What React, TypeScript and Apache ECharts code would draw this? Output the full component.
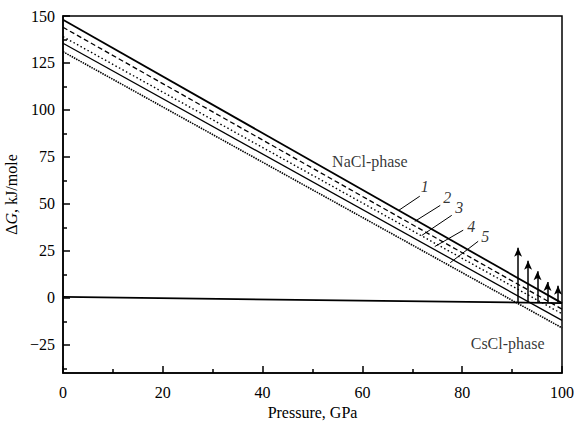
import React, { useEffect, useRef } from "react";
import * as echarts from "echarts";

// Pressure (GPa) endpoints of the lines
const pressure = [0, 100];
// NaCl-phase ΔG lines 1..5 (kJ/mole)
const line1 = [148, -2.8];
const line2 = [144, -6];
const line3 = [139, -8.5];
const line4 = [135.5, -12];
const line5 = [131, -16];
// CsCl-phase reference line
const cscl = [0.5, -2.8];

// Transition arrows
const arrowX = [91.2, 93.2, 95.1, 97.1, 99.2];
const arrowBase = [-2.2, -2.3, -2.3, -2.4, -2.5];
const arrowTop = [26.6, 19.8, 14.1, 8.4, 6.5];

// Curve numbers and leader lines
const curveNames = ["1", "2", "3", "4", "5"];
const curveLabelX = [72.5, 77, 79.4, 81.8, 84.6];
const curveLabelY = [59.4, 53.5, 48.2, 38, 32.7];
const leaderFromX = [71.5, 75.6, 77.9, 80.2, 83.2];
const leaderFromY = [54.1, 49.2, 43.9, 36.0, 30.1];
const leaderToX = [67.3, 70.5, 71.9, 74.5, 77.6];
const leaderToY = [46.6, 40.7, 33.2, 27.3, 18.7];

const phaseNames = ["NaCl-phase", "CsCl-phase"];
const phaseX = [61.5, 89.1];
const phaseY = [72.8, -24.1];

const yTicks = [-25, 0, 25, 50, 75, 100, 125, 150];
const yMinorTicks = [-37.5, -12.5, 12.5, 37.5, 62.5, 87.5, 112.5, 137.5];

const FONT = "'Liberation Serif', 'Times New Roman', serif";

export default function App() {
  const ref = useRef<HTMLDivElement>(null);
  useEffect(() => {
    const chart = echarts.init(ref.current!, null, { renderer: "svg" });
    const mk = (vals: number[]) => pressure.map((x, i) => [x, vals[i]]);
    const lineSeries = (
      data: number[],
      type: any,
      width: number
    ) => ({
      type: "line",
      data: mk(data),
      symbol: "none",
      lineStyle: { color: "#000", width, type },
      silent: true,
    });
    chart.setOption({
      animation: false,
      grid: {
        left: 63,
        right: 12,
        top: 16,
        bottom: 48,
        show: true,
        borderColor: "#000",
        borderWidth: 1.5,
        containLabel: false,
        outerBoundsMode: "none",
      },
      xAxis: {
        type: "value",
        min: 0,
        max: 100,
        interval: 20,
        name: "Pressure, GPa",
        nameLocation: "middle",
        nameGap: 27,
        nameTextStyle: { fontFamily: FONT, fontSize: 16, color: "#000" },
        axisLine: { onZero: false, lineStyle: { color: "#000", width: 1.5 } },
        axisTick: { inside: true, length: 7, lineStyle: { color: "#000", width: 1.5 } },
        minorTick: { show: true, splitNumber: 2, length: 4, lineStyle: { color: "#000", width: 1.5 } },
        axisLabel: { fontFamily: FONT, fontSize: 16, color: "#000", margin: 11 },
        splitLine: { show: false },
      },
      yAxis: [
        {
          type: "value",
          min: -40,
          max: 150,
          name: "Δ{i|G}, kJ/mole",
          nameLocation: "middle",
          nameGap: 40,
          nameRotate: 90,
          nameTextStyle: {
            fontFamily: FONT,
            fontSize: 16,
            color: "#000",
            rich: { i: { fontFamily: FONT, fontSize: 16, fontStyle: "italic", color: "#000" } },
          },
          axisLine: { show: true, onZero: false, lineStyle: { color: "#000", width: 1.5 } },
          axisTick: {
            inside: true,
            length: 7,
            customValues: yTicks,
            lineStyle: { color: "#000", width: 1.5 },
          },
          axisLabel: {
            fontFamily: FONT,
            fontSize: 16,
            color: "#000",
            margin: 8,
            customValues: yTicks,
            formatter: (v: number) => (v < 0 ? "\u2212" + Math.abs(v) : String(v)),
          },
          splitLine: { show: false },
        },
        {
          type: "value",
          min: -40,
          max: 150,
          position: "left",
          axisLine: { show: false, onZero: false },
          axisLabel: { show: false },
          axisTick: {
            show: true,
            inside: true,
            length: 4,
            customValues: yMinorTicks,
            lineStyle: { color: "#000", width: 1.5 },
          },
          splitLine: { show: false },
        },
      ],
      series: [
        lineSeries(line1, "solid", 1.8),
        lineSeries(line2, [5, 3], 1.3),
        lineSeries(line3, [1.5, 2.5], 1.4),
        lineSeries(line4, "solid", 1.3),
        lineSeries(line5, [1.5, 1], 1.6),
        {
          ...lineSeries(cscl, "solid", 1.8),
          markLine: {
            silent: true,
            symbol: ["none", "arrow"],
            symbolSize: [6, 9],
            label: { show: false },
            lineStyle: { color: "#000", width: 1.5, type: "solid" },
            data: arrowX.map((x, i) => [
              { coord: [x, arrowBase[i]] },
              { coord: [x, arrowTop[i]] },
            ]),
          },
        },
        {
          type: "line",
          data: [],
          symbol: "none",
          markLine: {
            silent: true,
            symbol: ["none", "none"],
            label: { show: false },
            lineStyle: { color: "#000", width: 1, type: "solid" },
            data: leaderFromX.map((x, i) => [
              { coord: [x, leaderFromY[i]] },
              { coord: [leaderToX[i], leaderToY[i]] },
            ]),
          },
        },
        {
          type: "scatter",
          symbolSize: 0,
          silent: true,
          data: curveNames.map((n, i) => [curveLabelX[i], curveLabelY[i], n]),
          label: {
            show: true,
            position: "inside",
            formatter: (p: any) => p.data[2],
            fontFamily: FONT,
            fontSize: 16,
            fontStyle: "italic",
            color: "#000",
          },
        },
        {
          type: "scatter",
          symbolSize: 0,
          silent: true,
          data: phaseNames.map((n, i) => [phaseX[i], phaseY[i], n]),
          label: {
            show: true,
            position: "inside",
            formatter: (p: any) => p.data[2],
            fontFamily: FONT,
            fontSize: 16,
            color: "#000",
          },
        },
      ],
    });
    return () => chart.dispose();
  }, []);
  return <div ref={ref} style={{ width: 574, height: 421, position: "absolute", left: 0, top: 0 }} />;
}
